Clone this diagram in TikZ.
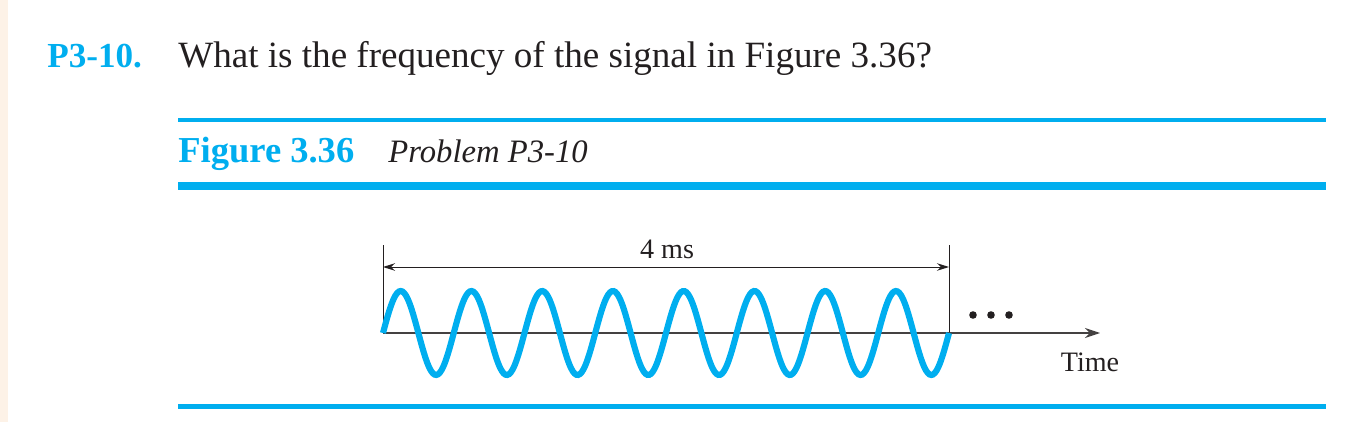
\documentclass[tikz,border=0pt]{standalone}
\usepackage{fontspec}
\setmainfont{Liberation Serif}
\usepackage{xcolor}
\usepackage{tikz}
\usetikzlibrary{arrows.meta,positioning,calc}
\definecolor{cyanblue}{HTML}{00AEEF}
\definecolor{ink}{HTML}{231F20}
\definecolor{margin}{HTML}{FDF2E7}

\begin{document}
\begin{tikzpicture}[
  x=0.02cm,y=-0.02cm,
  txt/.style={anchor=base west,inner sep=0pt,text=ink},
  rule/.style={color=cyanblue},
  dim/.style={{Stealth[length=2.4mm,width=1.5mm]}-{Stealth[length=2.4mm,width=1.5mm]},color=ink,line width=0.55pt},
  axis/.style={-{Stealth[length=3mm,width=2mm]},color=ink!85,line width=0.8pt},
  wave/.style={color=cyanblue,line width=3.5pt}]
  \useasboundingbox (0,0) rectangle (1346,422);
  \fill[margin] (0,0) rectangle (8,422);
  \node[txt,text=cyanblue,font=\fontsize{20}{24}\selectfont\bfseries] (num) at (47,68) {P3-10.};
  \node[txt,font=\fontsize{21.1}{25}\selectfont] (q) at (178,68) {What is the frequency of the signal in Figure 3.36?};
  \node[txt,text=cyanblue,font=\fontsize{20.8}{24}\selectfont\bfseries] (fig) at (178,163) {Figure 3.36};
  \node[txt,font=\fontsize{18.6}{22}\selectfont\itshape] (cap) at (388,163) {Problem P3-10};
  \draw[rule,line width=2pt] (178,120) -- (1326,120);
  \draw[rule,line width=4.5pt] (178,186) -- (1326,186);
  \draw[rule,line width=2.8pt] (178,406.5) -- (1326,406.5);
  \coordinate (o) at (383,333);
  \coordinate (e) at (949,333);
  \coordinate (tip) at (1100,333);
  \coordinate (lt) at (383,245);
  \coordinate (rt) at (949,245);
  \coordinate (dl) at (383,267);
  \coordinate (dr) at (949,267);
  \draw[color=ink,line width=0.55pt] (o) -- (lt);
  \draw[color=ink,line width=0.55pt] (e) -- (rt);
  \draw[dim] (dl) -- (dr);
  \node[txt,anchor=base,font=\fontsize{16}{19}\selectfont] (ms) at (667,259) {4 ms};
  \draw[axis] (o) -- (tip);
  \draw[wave] plot[domain=0:566,samples=320,smooth] ({383+\x},{333-42*sin(\x*5.0883)});
  \foreach \d in {0,1,2} \fill[ink] (973+18*\d,315) circle (3.8);
  \node[txt,anchor=base,font=\fontsize{16}{19}\selectfont] (time) at (1090,371) {Time};
\end{tikzpicture}
\end{document}
